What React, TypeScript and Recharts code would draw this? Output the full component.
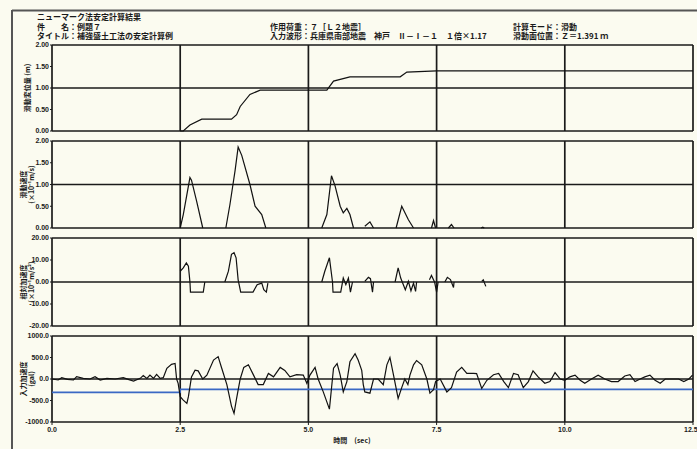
import React from 'react';
import { LineChart, Line, XAxis, YAxis, CartesianGrid } from 'recharts';

// --- header texts ---
const headerLeft = ['ニューマーク法安定計算結果', '件　　名：例題７', 'タイトル：補強盛土工法の安定計算例'];
const headerMid = ['作用荷重：７［Ｌ２地震］', '入力波形：兵庫県南部地震　神戸　Ⅱ－Ⅰ－１　１倍×1.17'];
const headerRight = ['計算モード：滑動', '滑動面位置：Ｚ＝1.391 ｍ'];

// --- axes ---
const timeTicks = [0, 2.5, 5, 7.5, 10, 12.5];
const dispTicks = [0, 0.5, 1, 1.5, 2];
const velTicks = [0, 0.5, 1, 1.5, 2];
const relAccTicks = [-20, -10, 0, 10, 20];
const inputTicks = [-1000, -500, 0, 500, 1000];
const axisTitles = [['滑動変位量 (m)'], ['滑動速度', '(×10⁻¹m/s)'], ['相対加速度', '(×10⁻¹m/s²)'], ['入力加速度', '(gal)']];

// --- cumulative displacement ---
const dispTime = [2.5, 2.56, 2.69, 2.92, 3.5, 3.6, 3.67, 3.86, 4.06, 5.36, 5.49, 5.81, 6.79, 6.92, 7.5, 12.5];
const dispValue = [0, 0, 0.14, 0.275, 0.275, 0.38, 0.57, 0.85, 0.95, 0.95, 1.16, 1.26, 1.26, 1.37, 1.4, 1.4];

// --- sliding velocity (null = not sliding) ---
const velTime = [2.5, 2.56, 2.69, 2.72, 2.82, 2.94, 3.1,
  3.39, 3.47, 3.57, 3.63, 3.7, 3.86, 3.96, 4.09, 4.17, 4.7,
  5.26, 5.36, 5.45, 5.52, 5.62, 5.68, 5.75, 5.81, 5.88, 6.0,
  6.1, 6.2, 6.27, 6.5,
  6.71, 6.82, 6.95, 7.05, 7.2,
  7.4, 7.44, 7.48, 7.6,
  7.73, 7.79, 7.84, 8.1,
  8.37, 8.4, 8.43];
const velValue = [0, 0.31, 1.16, 1.1, 0.62, 0, null,
  0, 0.54, 1.32, 1.86, 1.67, 1.0, 0.5, 0.31, 0, null,
  0, 0.31, 1.2, 0.97, 0.5, 0.35, 0.45, 0.31, 0, null,
  0.04, 0.14, 0, null,
  0, 0.5, 0.19, 0, null,
  0, 0.17, 0, null,
  0, 0.08, 0, null,
  0, 0.02, 0];

// --- relative acceleration ---
const relAccTime = [2.5, 2.56, 2.62, 2.66, 2.69, 2.7, 2.95, 2.98, 3.1,
  3.37, 3.44, 3.5, 3.55, 3.59, 3.63, 3.68, 3.92, 4.0, 4.09, 4.13, 4.18, 4.21, 4.7,
  5.26, 5.32, 5.41, 5.47, 5.48, 5.63, 5.68, 5.73, 5.78, 5.82, 5.86, 6.0,
  6.1, 6.17, 6.21, 6.25, 6.27, 6.5,
  6.69, 6.75, 6.8, 6.89, 6.95, 7.0, 7.05, 7.09, 7.11, 7.2,
  7.36, 7.4, 7.46, 7.5, 7.53, 7.6,
  7.66, 7.71, 7.77, 7.83, 7.84, 8.1,
  8.38, 8.41, 8.46];
const relAccValue = [4.9, 6.4, 8.7, 7.2, 0, -4.6, -4.6, 0, null,
  0, 4.9, 12.6, 13.3, 11, 1, -4.6, -4.6, -1.2, -0.5, -3.5, -4.6, -0.5, null,
  0, 4.9, 11, 0, -4.6, -4.6, 1.8, -1.2, 1.8, -4.6, 0, null,
  0.3, 2.1, 1.5, -4.6, 0, null,
  0, 6.4, 1.8, -3.5, 0.3, -4, -0.5, -4.3, 0, null,
  1, 3, 0, -4.6, 0, null,
  0, 2.1, 1.1, -2.5, 0, null,
  0.3, 1, -2];

// --- input acceleration (gal) ---
const inputTime = [0, 0.12, 0.19, 0.3, 0.42, 0.48, 0.61, 0.74, 0.84, 0.94, 1.07, 1.23, 1.39, 1.5, 1.59,
  1.72, 1.78, 1.85, 1.91, 1.98, 2.04, 2.11, 2.17, 2.24, 2.33, 2.4, 2.43, 2.46, 2.5, 2.56, 2.63, 2.66,
  2.72, 2.79, 2.85, 2.94, 3.02, 3.15, 3.24, 3.31, 3.41, 3.5, 3.55, 3.6, 3.67, 3.74, 3.83, 3.93, 4.02,
  4.12, 4.22, 4.32, 4.45, 4.54, 4.64, 4.77, 4.9, 4.97, 5.03, 5.13, 5.19, 5.29, 5.41, 5.45, 5.49, 5.56,
  5.62, 5.68, 5.75, 5.81, 5.91, 5.97, 6.04, 6.07, 6.1, 6.2, 6.27, 6.36, 6.46, 6.53, 6.59, 6.66, 6.75,
  6.82, 6.88, 6.94, 6.98, 7.05, 7.11, 7.21, 7.31, 7.37, 7.44, 7.48, 7.57, 7.7, 7.79, 7.89, 7.99, 8.09,
  8.22, 8.28, 8.38, 8.48, 8.61, 8.71, 8.81, 8.9, 9.0, 9.09, 9.19, 9.29, 9.38, 9.48, 9.61, 9.71, 9.81,
  9.91, 10.0, 10.1, 10.2, 10.3, 10.39, 10.52, 10.65, 10.78, 10.91, 11.04, 11.17, 11.27, 11.37, 11.47,
  11.56, 11.66, 11.76, 11.86, 11.96, 12.09, 12.22, 12.32, 12.42, 12.49];
const inputValue = [0, -23, 31, -10, -23, 54, 15, 0, 54, -23, 15, 0, 31, -15, -47,
  15, 78, 15, 93, 15, 108, 15, 31, 248, 340, 360, 0, -100, -410, -490, -567, -410,
  50, 205, 190, 0, 90, 440, 520, 250, -130, -630, -800, -450, 0, 270, 330, 90, -130,
  -130, 130, 50, 270, 200, 50, 100, 90, -100, 90, 270, 0, -300, -700, -220, 250, 360,
  90, -300, -60, 400, 590, 440, 200, -130, -300, -330, 0, 0, -130, 330, 500, 90, -450,
  -200, 0, -130, 90, 330, 430, 330, 0, -330, -250, -60, 0, -300, -200, 160, 270, 130,
  130, 125, -220, -30, 100, 130, -60, -200, 130, 100, -200, -60, 190, 50, -100, -60, 150,
  0, -30, 50, 90, -30, -100, 0, 90, 0, -60, -60, 70, 100, -60, 0,
  50, 90, -30, -100, 0, 0, 0, -60, 0, 90];

// --- yield acceleration (gal) ---
const yieldTime = [0, 2.5, 2.5, 12.5];
const yieldValue = [-311, -311, -242, -242];

const zip = (ts: number[], vs: (number | null)[]) => ts.map((t, i) => ({ t, v: vs[i] }));

const FONT = '"Noto Sans CJK JP", "Liberation Sans", sans-serif';
const NUM_FONT = '"Liberation Sans Narrow", "Liberation Sans", sans-serif';
const INK = '#1a1a1a';

interface PanelProps {
  top: number;
  bottom: number;
  ticks: number[];
  digits: number;
  series: { data: { t: number; v: number | null }[]; color: string; width: number }[];
  showX?: boolean;
}

const Panel: React.FC<PanelProps> = ({ top, bottom, ticks, digits, series, showX }) => {
  const pad = 4;
  const xh = showX ? 22 : 0;
  const h = bottom - top + pad * 2 + xh;
  return (
    <div style={{ position: 'absolute', left: 0, top: top - pad }}>
      <LineChart width={697} height={h} margin={{ top: pad, right: 4, bottom: pad, left: 0 }}>
        <CartesianGrid stroke={INK} strokeWidth={1.7} />
        <XAxis
          type="number"
          dataKey="t"
          domain={[0, 12.5]}
          ticks={timeTicks}
          allowDuplicatedCategory={false}
          height={xh}
          hide={!showX}
          axisLine={false}
          tickSize={3}
          tickLine={{ stroke: INK }}
          tickFormatter={(v: number) => v.toFixed(1)}
          tick={{ fontSize: 7, fontWeight: 700, fill: INK, fontFamily: NUM_FONT }}
        />
        <YAxis
          type="number"
          domain={[ticks[0], ticks[ticks.length - 1]]}
          ticks={ticks}
          width={52}
          axisLine={false}
          tickSize={2}
          tickMargin={1}
          tickLine={{ stroke: INK }}
          tickFormatter={(v: number) => v.toFixed(digits)}
          tick={{ fontSize: 7, fontWeight: 700, fill: INK, fontFamily: NUM_FONT }}
        />
        {series.map((s, i) => (
          <Line
            key={i}
            data={s.data}
            dataKey="v"
            type="linear"
            stroke={s.color}
            strokeWidth={s.width}
            dot={false}
            isAnimationActive={false}
            connectNulls={false}
          />
        ))}
      </LineChart>
    </div>
  );
};

const panels = [
  { top: 45, bottom: 131, ticks: dispTicks, digits: 2 },
  { top: 141, bottom: 228, ticks: velTicks, digits: 2 },
  { top: 238, bottom: 326, ticks: relAccTicks, digits: 2 },
  { top: 336, bottom: 422, ticks: inputTicks, digits: 1 },
];

export default function App() {
  const txt = { fontFamily: FONT, fontSize: 8, fontWeight: 700, fill: INK } as const;
  return (
    <div style={{ position: 'absolute', left: 0, top: 0, width: 697, height: 449, background: '#fbfbf0', overflow: 'hidden' }}>
      <Panel {...panels[0]} series={[{ data: zip(dispTime, dispValue), color: '#111', width: 1.2 }]} />
      <Panel {...panels[1]} series={[{ data: zip(velTime, velValue), color: '#111', width: 1.2 }]} />
      <Panel {...panels[2]} series={[{ data: zip(relAccTime, relAccValue), color: '#111', width: 1.2 }]} />
      <Panel
        {...panels[3]}
        showX
        series={[
          { data: zip(yieldTime, yieldValue), color: '#3a68c4', width: 1.6 },
          { data: zip(inputTime, inputValue), color: '#111', width: 1.2 },
        ]}
      />
      <svg width={697} height={449} style={{ position: 'absolute', left: 0, top: 0, pointerEvents: 'none' }}>
        <line x1={12} y1={10.5} x2={697} y2={10.5} stroke="#555" strokeWidth={2} />
        <line x1={12} y1={10} x2={12} y2={449} stroke="#555" strokeWidth={2} />
        {headerLeft.map((s, i) => (
          <text key={s} x={37} y={20 + i * 9.5} {...txt}>{s}</text>
        ))}
        {headerMid.map((s, i) => (
          <text key={s} x={270} y={29.5 + i * 9.5} {...txt}>{s}</text>
        ))}
        {headerRight.map((s, i) => (
          <text key={s} x={513} y={29.5 + i * 9.5} {...txt}>{s}</text>
        ))}
        {axisTitles.map((lines, i) => {
          const p = panels[i];
          const cy = (p.top + p.bottom) / 2;
          const x0 = lines.length > 1 ? 26 : 30;
          return lines.map((s, j) => (
            <text
              key={s}
              x={0}
              y={0}
              transform={`translate(${x0 + j * 8},${cy}) rotate(-90)`}
              textAnchor="middle"
              {...txt}
              fontSize={7}
            >
              {s}
            </text>
          ));
        })}
        <text x={352} y={443} textAnchor="middle" {...txt} fontSize={7}>時間　(sec)</text>
      </svg>
    </div>
  );
}
